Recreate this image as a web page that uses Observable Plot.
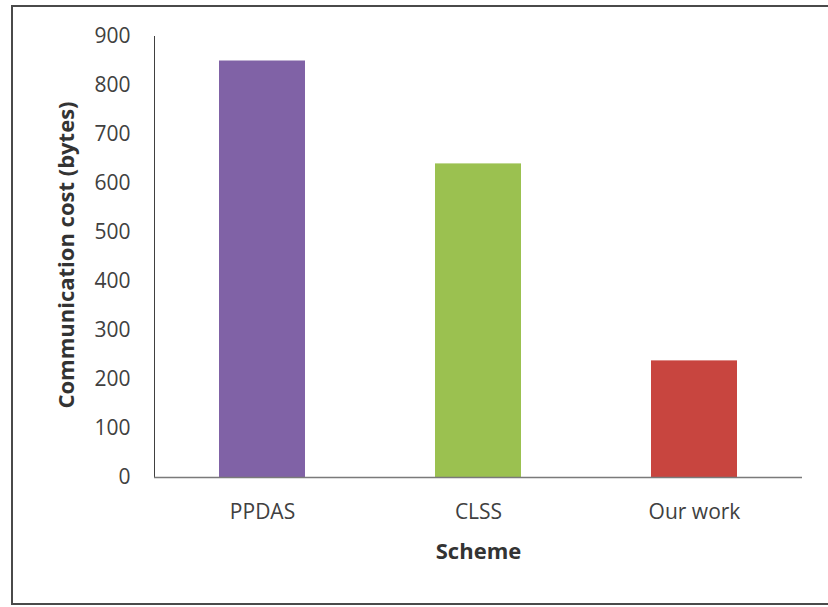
<!DOCTYPE html>
<html>
<head>
<meta charset="utf-8">
<script src="https://cdn.jsdelivr.net/npm/d3@7"></script>
<script src="https://cdn.jsdelivr.net/npm/@observablehq/plot@0.6"></script>
<style>
  body { margin: 0; background: #fff; }
  #wrap { position: relative; width: 828px; height: 607px; overflow: hidden; background: #fff; }
  #border { position: absolute; left: 11px; top: 5px; width: 840px; height: 600px; border: 2px solid #4a4a4a; box-sizing: border-box; pointer-events: none; }
  #wrap svg { position: absolute; left: 0; top: 0; }
</style>
</head>
<body>
<div id="wrap"><div id="border"></div></div>
<script>
const schemes = ["PPDAS", "CLSS", "Our work"];
const costs = [850, 640, 238];
const barColors = ["#8062a6", "#9bc150", "#c8453f"];
const yTicks = [0, 100, 200, 300, 400, 500, 600, 700, 800, 900];
const xTitle = "Scheme";
const yTitle = "Communication cost (bytes)";

const data = schemes.map((s, i) => ({ scheme: s, cost: costs[i] }));

const chart = Plot.plot({
  width: 828,
  height: 607,
  marginLeft: 154,
  marginRight: 26,
  marginTop: 36,
  marginBottom: 130,
  style: { fontFamily: "'Open Sans', sans-serif", fontSize: "21px", color: "#404040", background: "transparent" },
  x: { domain: schemes, paddingInner: 0.6, paddingOuter: 0.3, tickSize: 0, tickPadding: 27, label: null },
  y: { domain: [0, 900], ticks: yTicks, tickSize: 0, tickPadding: 24, label: null, line: true },
  color: { domain: schemes, range: barColors },
  marks: [
    Plot.barY(data, { x: "scheme", y: "cost", fill: "scheme" }),
    Plot.ruleY([0], { stroke: "#7a7a7a", strokeWidth: 1.5 }),
    Plot.text([xTitle], { frameAnchor: "bottom", dy: 81, text: d => d, fontWeight: "bold", fontSize: 22, fill: "#333" }),
    Plot.text([yTitle], { frameAnchor: "left", textAnchor: "middle", dx: -88, dy: -2, rotate: -90, text: d => d, fontWeight: "bold", fontSize: 22, fill: "#333" })
  ]
});
d3.select(chart).selectAll("[aria-label='y-axis'] path, [aria-label='y-axis line'] path, [aria-label='y-axis line']").attr("stroke", "#7a7a7a");
document.getElementById("wrap").appendChild(chart);
</script>
</body>
</html>
